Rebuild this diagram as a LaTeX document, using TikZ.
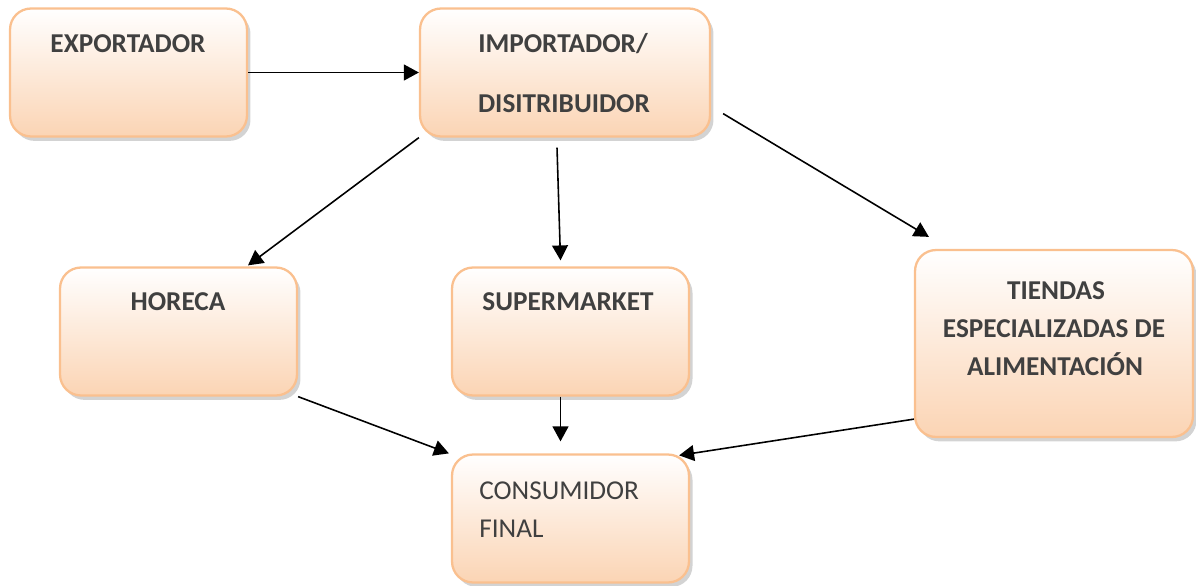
\documentclass[tikz,border=0pt]{standalone}
\usepackage{fontspec}
\setmainfont{Carlito}
\usepackage{tikz}
\usetikzlibrary{arrows.meta,positioning,calc,shadows}
\definecolor{peachline}{RGB}{250,192,143}
\definecolor{peachfill}{RGB}{251,212,180}
\definecolor{boxtext}{RGB}{64,64,64}

\begin{document}
\begin{tikzpicture}[x=0.02cm,y=-0.02cm,
    box/.style={draw=peachline,line width=1.3pt,rounded corners=0.42cm,
      top color=white,bottom color=peachfill,
      drop shadow={opacity=0.35,shadow xshift=2pt,shadow yshift=-2.5pt},
      minimum width=4.74cm,minimum height=2.56cm},
    lbl/.style={anchor=base,inner sep=0pt,text=boxtext,font=\fontsize{15.5}{18}\selectfont\bfseries},
    arr/.style={-{Triangle[length=8.5pt,width=9pt]},line width=0.9pt}]
  \useasboundingbox (0,0) rectangle (1196,585);

  % boxes
  \node[box] (exp) at (128.5,72.5) {};
  \node[box,minimum width=5.8cm] (imp) at (565,72.5) {};
  \node[box] (hor) at (178.5,331.5) {};
  \node[box] (sup) at (570.5,331.5) {};
  \node[box,minimum width=5.56cm,minimum height=3.74cm] (tie) at (1054,343.5) {};
  \node[box] (con) at (570.5,518.5) {};

  % texts
  \node[lbl] (exptxt) at (128,52) {EXPORTADOR};
  \node[lbl] (imptxt) at (563,52) {IMPORTADOR/};
  \node[lbl] (distxt) at (564,112) {DISITRIBUIDOR};
  \node[lbl] (hortxt) at (178,310) {HORECA};
  \node[lbl] (suptxt) at (568,310) {SUPERMARKET};
  \node[lbl] (tietxt) at (1056,299) {TIENDAS};
  \node[lbl] (esptxt) at (1054,337) {ESPECIALIZADAS DE};
  \node[lbl] (alitxt) at (1055,375) {ALIMENTACIÓN};
  \node[lbl,anchor=base west,font=\fontsize{15.5}{18}\selectfont] (contxt) at (479,499) {CONSUMIDOR};
  \node[lbl,anchor=base west,font=\fontsize{15.5}{18}\selectfont] (fintxt) at (479,537) {FINAL};

  % connectors
  \draw[arr] (exp.east) -- (imp.west);
  \draw[arr] (imp.south west) -- ($(hor.north)+(69.5,-1)$);
  \draw[arr] ($(imp.south)+(-8,10)$) -- ($(sup.north)+(-10,-6)$);
  \draw[arr] ($(imp.south east)+(12,-24)$) -- ($(tie.north west)+(15,-12)$);
  \draw[arr] (hor.south east) -- ($(con.north west)+(-2,0)$);
  \draw[arr] ($(sup.south)+(-10,0)$) -- ($(con.north)+(-10,-12)$);
  \draw[arr] ($(tie.south west)+(0,-19)$) -- ($(con.north east)+(-11,2)$);
\end{tikzpicture}
\end{document}
